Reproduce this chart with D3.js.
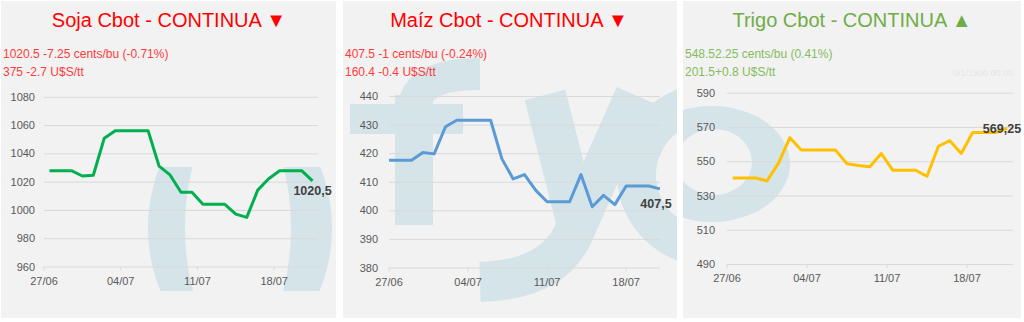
<!DOCTYPE html>
<html>
<head>
<meta charset="utf-8">
<script src="https://cdn.jsdelivr.net/npm/d3@7"></script>
<style>
body { margin: 0; background: #fff; }
svg { display: block; }
text { font-family: 'Liberation Sans', Arial, sans-serif; }
</style>
</head>
<body>
<div id="chart"></div>
<script>
var dates = ['27/06','28/06','29/06','30/06','01/07','02/07','03/07','04/07','05/07','06/07',
  '07/07','08/07','09/07','10/07','11/07','12/07','13/07','14/07','15/07','16/07',
  '17/07','18/07','19/07','20/07','21/07']
var tickLabels = ['27/06','04/07','11/07','18/07']

var soja = [1027.75,1027.75,1027.75,1024,1024.5,1050.75,1056,1056,1056,1056,
  1031,1024.75,1012.5,1012.5,1004,1004,1004,997,994.75,1014,
  1022,1027.75,1027.75,1027.75,1020.5]
var maiz = [417.5,417.5,417.5,420.25,419.75,429.25,431.5,431.5,431.5,431.5,
  418,411,412.5,407,403,403,403,412.5,401.25,405.25,
  402,408.5,408.5,408.5,407.5]
var trigo = [540.25,540.25,540.25,538.5,548.75,563.75,556.5,556.5,556.5,556.5,
  548.5,547.5,546.75,554.5,544.75,544.75,544.75,541.25,558.75,562,
  554.5,566.75,566.75,566.75,569.25]

var sojaTicks = [960,980,1000,1020,1040,1060,1080]
var maizTicks = [380,390,400,410,420,430,440]
var trigoTicks = [490,510,530,550,570,590]

var titles = ['Soja Cbot - CONTINUA ▼', 'Maíz Cbot - CONTINUA ▼', 'Trigo Cbot - CONTINUA ▲']
var sub1 = ['1020.5 -7.25 cents/bu (-0.71%)', '407.5 -1 cents/bu (-0.24%)', '548.52.25 cents/bu (0.41%)']
var sub2 = ['375 -2.7 U$S/tt', '160.4 -0.4 U$S/tt', '201.5+0.8 U$S/tt']

var panels = [
  {values: soja, ticks: sojaTicks, title: titles[0], s1: sub1[0], s2: sub2[0],
   line: '#00b050', head: '#ff0000', sub: '#ff3b3b',
   box: [1, 1, 335, 317], px: [44, 318], py: [266.5, 96.8], mode: 'band', tx: 169, pad: 9, lab: [0, 14]},
  {values: maiz, ticks: maizTicks, title: titles[1], s1: sub1[1], s2: sub2[1],
   line: '#5b9bd5', head: '#ff0000', sub: '#ff3b3b',
   box: [343, 1, 334, 317], px: [389, 660], py: [267.5, 96], mode: 'point', tx: 509, pad: 11, lab: [-4, 19]},
  {values: trigo, ticks: trigoTicks, title: titles[2], s1: sub1[2], s2: sub2[2],
   line: '#ffc000', head: '#70ad47', sub: '#86bb60',
   box: [683, 1, 338, 317], px: [727, 1012.7], py: [264, 92.7], mode: 'band', tx: 852, pad: 12, lab: [-5, 5]}
]

var W = 1024, H = 322
var svg = d3.select('#chart').append('svg').attr('width', W).attr('height', H)
var defs = svg.append('defs')
var wm = '#d5e4e9'

panels.forEach(function(p, i){
  var b = p.box
  defs.append('clipPath').attr('id', 'clip' + i)
    .append('rect').attr('x', b[0]).attr('y', b[1]).attr('width', b[2]).attr('height', b[3])

  var g = svg.append('g')
  g.append('rect').attr('x', b[0]).attr('y', b[1]).attr('width', b[2]).attr('height', b[3])
    .attr('fill', '#f2f2f2')

  // watermark
  var w = g.append('g').attr('clip-path', 'url(#clip' + i + ')').attr('fill', wm)
  if (i == 0){
    defs.append('clipPath').attr('id', 'wclip0')
      .append('rect').attr('x', 0).attr('y', 167).attr('width', 340).attr('height', 124)
    w.append('path').attr('clip-path', 'url(#wclip0)').attr('fill-rule', 'evenodd')
      .attr('d', ellipse(240, 228, 92, 125) + ellipse(238, 228, 53, 118))
  }
  if (i == 1){
    w.append('rect').attr('x', 395).attr('y', 95).attr('width', 38).attr('height', 130)
    w.append('rect').attr('x', 350).attr('y', 104).attr('width', 113).attr('height', 30)
    w.append('path').attr('fill', 'none').attr('stroke', wm).attr('stroke-width', 32)
      .attr('d', 'M414,110 Q414,74 480,74')
    w.append('path').attr('fill', 'none').attr('stroke', wm).attr('stroke-width', 42)
      .attr('d', 'M545,95 L578,225')
    w.append('path').attr('fill', 'none').attr('stroke', wm).attr('stroke-width', 40)
      .attr('d', 'M635,95 L575,230 Q555,280 480,282')
    w.append('path').attr('fill-rule', 'evenodd')
      .attr('d', ellipse(712, 175, 95, 92) + ellipse(712, 175, 56, 54))
  }
  if (i == 2){
    w.append('path').attr('fill-rule', 'evenodd')
      .attr('d', ellipse(712, 164, 78, 58) + ellipse(714, 162, 38, 33))
  }

  // scales
  var x, off
  if (p.mode == 'band'){
    x = d3.scaleBand().domain(dates).range(p.px).padding(0)
    off = x.bandwidth() / 2
  } else {
    x = d3.scalePoint().domain(dates).range(p.px)
    off = 0
  }
  var y = d3.scaleLinear().domain(d3.extent(p.ticks)).range(p.py)

  // gridlines + y labels
  var ya = g.append('g').attr('transform', 'translate(' + p.px[0] + ',0)')
    .call(d3.axisLeft(y).tickValues(p.ticks).tickSize(-(p.px[1] - p.px[0])).tickPadding(p.pad).tickFormat(d3.format('d')))
  ya.select('.domain').remove()
  ya.selectAll('line').attr('stroke', '#d9d9d9')
  ya.selectAll('text').attr('fill', '#595959').attr('font-size', 11)

  // x ticks + labels
  var xt = g.append('g').selectAll('g').data(tickLabels).join('g')
    .attr('transform', function(d){ return 'translate(' + x(d) + ',' + p.py[0] + ')' })
  xt.append('line').attr('y2', 4).attr('stroke', '#d9d9d9')
  xt.append('text').attr('y', 18).attr('text-anchor', 'middle')
    .attr('fill', '#595959').attr('font-size', 11).text(function(d){ return d })

  // line
  var line = d3.line()
    .x(function(d, j){ return x(dates[j]) + off })
    .y(function(d){ return y(d) })
  g.append('path').attr('d', line(p.values))
    .attr('fill', 'none').attr('stroke', p.line).attr('stroke-width', 3)
    .attr('stroke-linejoin', 'round')

  // last value label
  var last = p.values[p.values.length - 1]
  g.append('text')
    .attr('x', x(dates[dates.length - 1]) + off + p.lab[0])
    .attr('y', y(last) + p.lab[1])
    .attr('text-anchor', 'middle').attr('font-size', 12.5).attr('font-weight', 'bold')
    .attr('fill', '#404040')
    .text(String(last).replace('.', ','))

  // titles
  g.append('text').attr('x', p.tx).attr('y', 27).attr('text-anchor', 'middle')
    .attr('font-family', 'Noto Sans').attr('font-size', 20).attr('fill', p.head).text(p.title)
  g.append('text').attr('x', b[0] + 2).attr('y', 58)
    .attr('font-family', 'Noto Sans').attr('font-size', 12).attr('fill', p.sub).text(p.s1)
  g.append('text').attr('x', b[0] + 2).attr('y', 76)
    .attr('font-family', 'Noto Sans').attr('font-size', 12).attr('fill', p.sub).text(p.s2)
})

svg.append('text').attr('x', 1013).attr('y', 76).attr('text-anchor', 'end')
  .attr('font-size', 9).attr('fill', '#e6e6e6').text('0/1/1900 00:00')

function ellipse(cx, cy, rx, ry){
  return 'M' + (cx - rx) + ',' + cy +
    'a' + rx + ',' + ry + ' 0 1,0 ' + (2 * rx) + ',0' +
    'a' + rx + ',' + ry + ' 0 1,0 ' + (-2 * rx) + ',0Z'
}
</script>
</body>
</html>
